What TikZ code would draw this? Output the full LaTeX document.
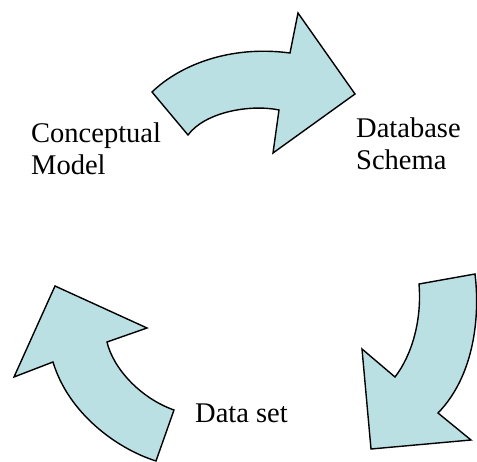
\documentclass[tikz,border=0pt]{standalone}
\usepackage{fontspec}
\setmainfont{Liberation Serif}
\definecolor{arrowfill}{RGB}{187,224,227}
\begin{document}
\begin{tikzpicture}[x=1pt,y=-1pt,
  bigarrow/.style={draw=black,fill=arrowfill,line width=1.4pt,line join=miter},
  lbl/.style={anchor=base west,inner sep=0pt,font=\fontsize{28.5}{32}\selectfont}]
\useasboundingbox (0,0) rectangle (477,462);
% top arrow
\path[bigarrow] (152,92) .. controls (180,65) and (230,45) .. (290,53)
  -- (298,13) -- (355,94) -- (273,153) -- (279,110)
  .. controls (250,104) and (205,112) .. (188,135) -- cycle;
% right arrow
\path[bigarrow] (419,284) -- (475,274)
  .. controls (480,315) and (475,375) .. (438,413)
  -- (471,440) -- (371,449) -- (362,349) -- (395,377)
  .. controls (412,355) and (422,320) .. (419,284) -- cycle;
% left arrow
\path[bigarrow] (55,286) -- (147,328) -- (107,342)
  .. controls (113,368) and (140,398) .. (174,410)
  -- (156,461)
  .. controls (115,448) and (68,412) .. (53,362)
  -- (14,377) -- cycle;
% labels
\node[lbl] (cm1) at (31,143) {Conceptual};
\node[lbl] (cm2) at (31,175) {Model};
\node[lbl] (ds1) at (356,138) {Database};
\node[lbl] (ds2) at (356,170) {Schema};
\node[lbl] (dset) at (195,423) {Data set};
\end{tikzpicture}
\end{document}
